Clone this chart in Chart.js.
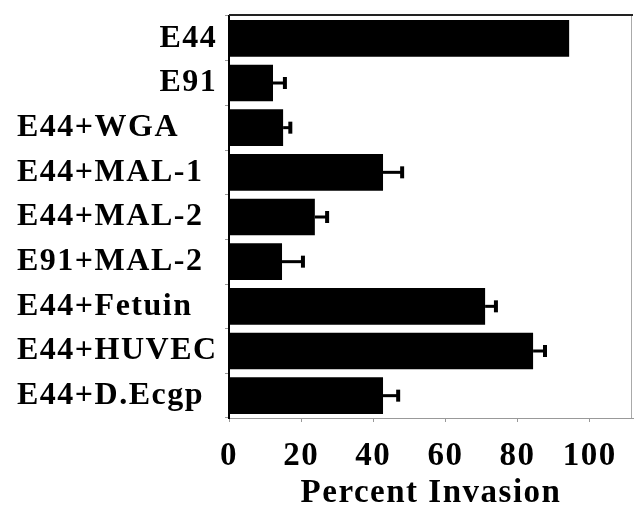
<!DOCTYPE html>
<html>
<head>
<meta charset="utf-8">
<script src="https://cdn.jsdelivr.net/npm/chart.js@4"></script>
<style>
  html, body { margin: 0; padding: 0; background: #fff; }
  canvas { display: block; }
</style>
</head>
<body>
<canvas id="myChart" width="635" height="509"></canvas>
<script>
"use strict";

let labels = ["E44", "E91", "E44+WGA", "E44+MAL-1", "E44+MAL-2", "E91+MAL-2", "E44+Fetuin", "E44+HUVEC", "E44+D.Ecgp"];
let invasion = [94.3, 12.2, 15.0, 42.7, 23.8, 14.7, 71.0, 84.3, 42.7];
let errors = [0, 3.3, 2.0, 5.3, 3.4, 5.8, 3.0, 3.3, 4.2];
let xTicks = [0, 20, 40, 60, 80, 100];

let serif = "'Liberation Serif', 'Times New Roman', serif";

// the first two labels sit against the axis in the original, the rest are flush left
function padLabel(text, i) {
    if (i < 2) return " ".repeat(15) + text;
    return text;
}

// the scan's lettering is a bit wider than plain Times bold
let spacing = {
    id: "spacing",
    beforeUpdate: function (chart) { chart.ctx.letterSpacing = "1.5px"; },
    beforeDraw: function (chart) { chart.ctx.letterSpacing = "1.5px"; }
};

// error bars, plus side only, through the x scale
let errorBars = {
    id: "errorBars",
    afterDatasetsDraw: function (chart) {
        let ctx = chart.ctx;
        let xs = chart.scales.x;
        let meta = chart.getDatasetMeta(0);
        ctx.save();
        ctx.strokeStyle = "#000";
        for (let i = 0; i < meta.data.length; i++) {
            if (!errors[i]) continue;
            let bar = meta.data[i];
            let x0 = xs.getPixelForValue(invasion[i]);
            let x1 = xs.getPixelForValue(invasion[i] + errors[i]);
            ctx.lineWidth = 3;
            ctx.beginPath();
            ctx.moveTo(x0, bar.y);
            ctx.lineTo(x1, bar.y);
            ctx.stroke();
            ctx.lineWidth = 4;
            ctx.beginPath();
            ctx.moveTo(x1, bar.y - 6);
            ctx.lineTo(x1, bar.y + 6);
            ctx.stroke();
        }
        ctx.restore();
    }
};

// frame: dark top line, light right side
let frame = {
    id: "frame",
    beforeDatasetsDraw: function (chart) {
        let a = chart.chartArea;
        let ctx = chart.ctx;
        ctx.save();
        ctx.strokeStyle = "#aaa";
        ctx.lineWidth = 1;
        ctx.beginPath();
        ctx.moveTo(a.right - 1.5, a.top);
        ctx.lineTo(a.right - 1.5, a.bottom);
        ctx.stroke();
        ctx.strokeStyle = "#222";
        ctx.lineWidth = 2;
        ctx.beginPath();
        ctx.moveTo(a.left, a.top - 1);
        ctx.lineTo(a.right, a.top - 1);
        ctx.stroke();
        ctx.restore();
    }
};

let chart = new Chart(document.getElementById("myChart"), {
    type: "bar",
    data: {
        labels: labels,
        datasets: [{
            data: invasion,
            backgroundColor: "#000",
            borderWidth: 0,
            barPercentage: 0.82,
            categoryPercentage: 1.0
        }]
    },
    options: {
        indexAxis: "y",
        responsive: false,
        animation: false,
        layout: { padding: { top: 16, right: 2, left: 17, bottom: 0 } },
        plugins: { legend: { display: false }, tooltip: { enabled: false } },
        scales: {
            x: {
                min: 0,
                max: 112,
                afterFit: function (scale) {
                    scale.height = 91;
                    scale.paddingLeft = 0;
                    scale.paddingRight = 0;
                },
                afterBuildTicks: function (scale) {
                    scale.ticks = xTicks.map(function (v) { return { value: v }; });
                },
                grid: { drawOnChartArea: false, color: "#999", tickLength: 4 },
                border: { color: "#999", width: 1 },
                ticks: {
                    color: "#000",
                    padding: 15,
                    maxRotation: 0,
                    font: { family: serif, size: 33, weight: "bold" }
                },
                title: {
                    display: true,
                    text: "Percent Invasion",
                    color: "#000",
                    padding: { top: 0, bottom: -4 },
                    font: { family: serif, size: 33, weight: "bold" }
                }
            },
            y: {
                afterFit: function (scale) {
                    scale.width = 212;
                    scale.paddingTop = 0;
                    scale.paddingBottom = 0;
                },
                grid: { drawOnChartArea: false, offset: true, color: "#999", tickLength: 4 },
                border: { color: "#000", width: 2 },
                ticks: {
                    color: "#000",
                    padding: 10,
                    crossAlign: "far",
                    callback: function (value, index) { return padLabel(labels[index], index); },
                    font: { family: serif, size: 32, weight: "bold" }
                }
            }
        }
    },
    plugins: [spacing, frame, errorBars]
});
</script>
</body>
</html>
